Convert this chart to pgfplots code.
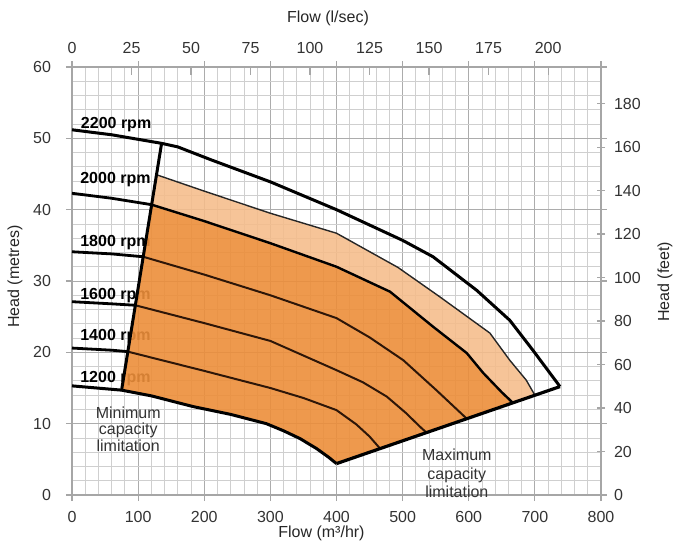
\documentclass[border=0pt]{standalone}
\usepackage{fontspec}
\setmainfont{Liberation Sans}
\usepackage{pgfplots}
\pgfplotsset{compat=1.18}
\definecolor{darkor}{RGB}{236,142,58}
\definecolor{lightor}{RGB}{245,188,138}
\definecolor{curvebr}{RGB}{45,22,8}
\begin{document}
\begin{tikzpicture}
\pgfplotsset{
  every tick label/.append style={font=\fontsize{8}{9}\selectfont, text=black!80},
  every axis label/.append style={font=\fontsize{8}{9}\selectfont, text=black!85},
  /pgf/number format/assume math mode=true,
}
\begin{axis}[
  at={(0,0)}, anchor=south west,
  width=264.5pt, height=214pt, scale only axis,
  xmin=0, xmax=800, ymin=0, ymax=60,
  xtick={0,100,...,800}, ytick={0,10,...,60},
  minor x tick num=4, minor y tick num=4,
  grid=both,
  major grid style={gray!65, line width=0.5pt},
  minor grid style={gray!38, line width=0.4pt},
  axis line style={gray!70, line width=0.6pt},
  tick style={gray!70, line width=0.6pt},
  tick align=outside, major tick length=3pt, minor tick length=0pt,
  xticklabel style={yshift=-1.5pt},
  yticklabel style={xshift=-4pt},
  xlabel={Flow (m³/hr)},
  xlabel style={at={(axis description cs:0.4716,-0.0888)}, anchor=center},
  ylabel={Head (metres)},
  ylabel style={at={(axis description cs:-0.108,0.51)}, anchor=center},
  clip=false,
]
% rpm labels (drawn first, partly covered by fill)
\node[anchor=base west, inner sep=0pt, font=\bfseries\fontsize{8}{9}\selectfont] at (axis cs:13,51.4) {2200 rpm};
\node[anchor=base west, inner sep=0pt, font=\bfseries\fontsize{8}{9}\selectfont] at (axis cs:12,43.6) {2000 rpm};
\node[anchor=base west, inner sep=0pt, font=\bfseries\fontsize{8}{9}\selectfont] at (axis cs:12,34.9) {1800 rpm};
\node[anchor=base west, inner sep=0pt, font=\bfseries\fontsize{8}{9}\selectfont] at (axis cs:12,27.4) {1600 rpm};
\node[anchor=base west, inner sep=0pt, font=\bfseries\fontsize{8}{9}\selectfont] at (axis cs:12,21.6) {1400 rpm};
\node[anchor=base west, inner sep=0pt, font=\bfseries\fontsize{8}{9}\selectfont] at (axis cs:12,15.8) {1200 rpm};
% light orange region
\addplot[draw=none, fill=lightor, fill opacity=0.88] coordinates {
 (120.5,40.7) (127.8,44.9) (200,42.6) (300,39.5) (400,36.7) (493,31.9) (556,27.8) (632,22.7) (662,18.9) (687,16.1) (700,14.0)
 (667,12.9) (650,14.4) (622,17.1) (597,19.9) (546,23.6) (481,28.5) (400,32.0) (300,35.3) (200,38.4) (120.5,40.7)} --cycle;
% dark orange region
\addplot[draw=none, fill=darkor, fill opacity=0.9] coordinates {
 (75,14.7) (120.5,40.7) (200,38.4) (300,35.3) (400,32.0) (481,28.5) (546,23.6) (597,19.9) (622,17.1) (650,14.4) (667,12.9)
 (400,4.4) (388,5.3) (370,6.5) (345,7.9) (320,9.0) (294,10.0) (240,11.3) (183,12.4) (120,13.9) (75,14.7)} --cycle;
% inner parts of curves
\addplot[curvebr, line width=1.0pt] coordinates {(84.4,20.1) (200,17.4) (300,15.0) (350,13.6) (400,11.9) (430,9.9) (450,8.2) (466,6.5)};
\addplot[curvebr, line width=1.0pt] coordinates {(95.8,26.6) (200,24.1) (300,21.6) (400,17.5) (440,15.8) (476,13.8) (505,11.5) (526,9.6) (536,8.75)};
\addplot[curvebr, line width=1.0pt] coordinates {(107.7,33.4) (200,30.9) (300,28.0) (400,24.8) (450,22.1) (501,18.9) (551,14.7) (597,10.7)};
\addplot[black, line width=1.2pt, line join=round] coordinates {(120.5,40.7) (200,38.4) (300,35.3) (400,32.0) (481,28.5) (546,23.6) (597,19.9) (622,17.1) (650,14.4) (667,12.9)};
\addplot[black!85, line width=0.7pt, line join=round] coordinates {(127.8,44.9) (200,42.6) (300,39.5) (400,36.7) (493,31.9) (556,27.8) (632,22.7) (662,18.9) (687,16.1) (700,14.0)};
% outer parts of curves (left of minimum capacity line)
\addplot[black, line width=1.4pt] coordinates {(0,42.3) (60,41.6) (120.5,40.7)};
\addplot[black, line width=1.4pt] coordinates {(0,34.1) (60,33.8) (107.7,33.4)};
\addplot[black, line width=1.4pt] coordinates {(0,27.1) (60,26.8) (95.8,26.6)};
\addplot[black, line width=1.4pt] coordinates {(0,20.6) (60,20.3) (84.4,20.1)};
% 2200 rpm
\addplot[black, line width=1.5pt, line join=round] coordinates {(0,51.2) (60,50.5) (135.5,49.3) (160,48.8) (210,47.0) (300,43.9) (400,40.0) (500,35.7) (546,33.4) (612,28.7) (662,24.5) (697,20.3) (738,15.2)};
% 1200 rpm / minimum capacity lower curve
\addplot[black, line width=1.5pt, line join=round] coordinates {(0,15.3) (75,14.7) (120,13.9) (183,12.4) (240,11.3) (294,10.0) (320,9.0) (345,7.9) (370,6.5) (388,5.3) (400,4.4)};
% minimum capacity line
\addplot[black, line width=1.5pt] coordinates {(75,14.7) (135.5,49.3)};
% maximum capacity line
\addplot[black, line width=1.6pt, line join=round] coordinates {(400,4.4) (738,15.2)};
% annotations
\node[align=center, inner sep=0pt, text=black!80, font=\fontsize{8}{8.3}\selectfont] at (axis cs:85,9.25) {Minimum\\capacity\\limitation};
\node[align=center, inner sep=0pt, text=black!80, font=\fontsize{8}{9.2}\selectfont] at (axis cs:582,3.0) {Maximum\\capacity\\limitation};
\end{axis}
\begin{axis}[
  at={(0,0)}, anchor=south west,
  width=264.5pt, height=214pt, scale only axis,
  axis x line*=top, axis y line*=right,
  xmin=0, xmax=222.2222, ymin=0, ymax=196.85,
  xtick={0,25,...,200}, ytick={0,20,...,180},
  axis line style={draw=none},
  tick style={gray!70, line width=0.6pt},
  xtick align=inside, ytick align=center, major tick length=4pt,
  xticklabel style={yshift=3pt},
  yticklabel style={xshift=1pt},
  xlabel={Flow (l/sec)},
  xlabel style={at={(axis description cs:0.484,1.1145)}, anchor=center},
  ylabel={Head (feet)},
  ylabel style={at={(axis description cs:1.121,0.498)}, anchor=center},
]
\end{axis}
\pgfresetboundingbox
\useasboundingbox (-36pt,-26.5pt) rectangle (301.5pt,247.5pt);
\end{tikzpicture}
\end{document}
